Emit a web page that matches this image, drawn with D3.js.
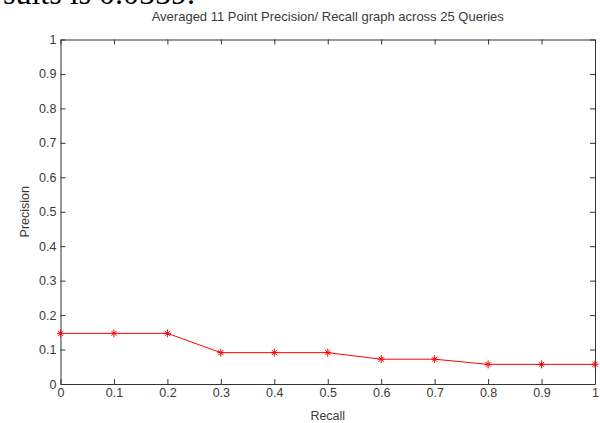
<!DOCTYPE html>
<html>
<head>
<meta charset="utf-8">
<script src="https://cdn.jsdelivr.net/npm/d3@7"></script>
<style>
  body { margin: 0; background: #fff; }
  text { font-family: "Liberation Sans", Arial, sans-serif; }
</style>
</head>
<body>
<svg id="chart" width="600" height="423"></svg>
<script>
const recall = [0, 0.1, 0.2, 0.3, 0.4, 0.5, 0.6, 0.7, 0.8, 0.9, 1];
const precision = [0.147, 0.147, 0.147, 0.091, 0.091, 0.091, 0.072, 0.072, 0.057, 0.057, 0.057];
const xTicks = [0, 0.1, 0.2, 0.3, 0.4, 0.5, 0.6, 0.7, 0.8, 0.9, 1];
const yTicks = [0, 0.1, 0.2, 0.3, 0.4, 0.5, 0.6, 0.7, 0.8, 0.9, 1];

const svg = d3.select("#chart"),
    margin = { top: 39.5, right: 5, bottom: 39, left: 60.5 },
    width = 600 - margin.left - margin.right,
    height = 423 - margin.top - margin.bottom;

// leftover text from the page above, cut off at the top
svg.append("text")
    .attr("x", 3).attr("y", 4)
    .style("font-family", "'Liberation Serif', serif")
    .style("font-size", "32px")
    .attr("fill", "#000")
    .text("sults is 0.0559.");

const x = d3.scaleLinear().domain([0, 1]).range([0, width]);
const y = d3.scaleLinear().domain([0, 1]).range([height, 0]);

const g = svg.append("g")
    .attr("transform", "translate(" + margin.left + "," + margin.top + ")");

const fmt = d => d === 0 ? "0" : d === 1 ? "1" : d3.format(".1f")(d);

function styleAxis(sel, showText) {
    sel.select(".domain").attr("stroke", "#333");
    sel.selectAll(".tick line").attr("stroke", "#333");
    sel.selectAll(".tick text")
        .attr("fill", "#3a3a3a")
        .style("font-size", "12.5px")
        .style("display", showText ? null : "none");
}

g.append("g")
    .attr("transform", "translate(0," + height + ")")
    .call(d3.axisBottom(x).tickValues(xTicks).tickFormat(fmt).tickSizeInner(-5).tickSizeOuter(0).tickPadding(4))
    .call(s => styleAxis(s, true));

g.append("g")
    .call(d3.axisTop(x).tickValues(xTicks).tickSizeInner(-5).tickSizeOuter(0))
    .call(s => styleAxis(s, false));

g.append("g")
    .call(d3.axisLeft(y).tickValues(yTicks).tickFormat(fmt).tickSizeInner(-5).tickSizeOuter(0).tickPadding(4))
    .call(s => styleAxis(s, true));

g.append("g")
    .attr("transform", "translate(" + width + ",0)")
    .call(d3.axisRight(y).tickValues(yTicks).tickSizeInner(-5).tickSizeOuter(0))
    .call(s => styleAxis(s, false));

const data = recall.map((r, i) => ({ r: r, p: precision[i] }));

g.append("path")
    .datum(data)
    .attr("fill", "none")
    .attr("stroke", "#ff0000")
    .attr("stroke-width", 1)
    .attr("d", d3.line().x(d => x(d.r)).y(d => y(d.p)));

// '*' markers
const star = g.selectAll(".star")
    .data(data)
    .enter().append("g")
    .attr("transform", d => "translate(" + x(d.r) + "," + y(d.p) + ")");
star.append("path")
    .attr("stroke", "#ff0000")
    .attr("stroke-width", 1)
    .attr("d", "M-3.5,0H3.5M0,-4V4M-2.5,-2.5L2.5,2.5M-2.5,2.5L2.5,-2.5");

svg.append("text")
    .attr("x", margin.left + width / 2).attr("y", 21)
    .attr("text-anchor", "middle")
    .attr("fill", "#3a3a3a")
    .style("font-size", "13px")
    .text("Averaged 11 Point Precision/ Recall graph across 25 Queries");

svg.append("text")
    .attr("x", margin.left + width / 2).attr("y", 420)
    .attr("text-anchor", "middle")
    .attr("fill", "#3a3a3a")
    .style("font-size", "12.5px")
    .text("Recall");

svg.append("text")
    .attr("transform", "translate(29," + (margin.top + height / 2) + ") rotate(-90)")
    .attr("text-anchor", "middle")
    .attr("fill", "#3a3a3a")
    .style("font-size", "12.5px")
    .text("Precision");
</script>
</body>
</html>
